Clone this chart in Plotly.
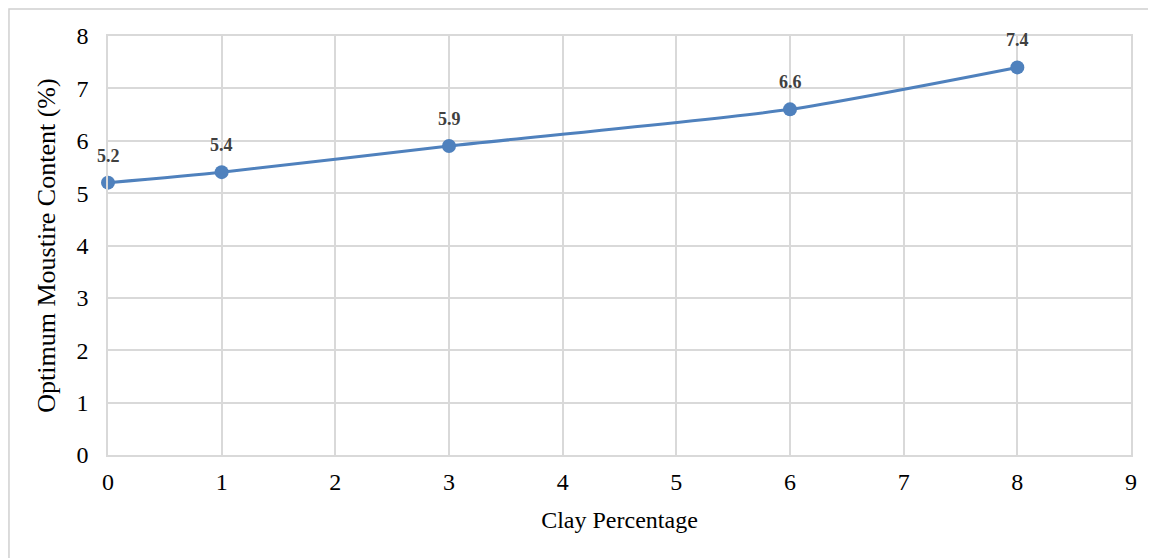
import plotly.graph_objects as go

clay = [0, 1, 3, 6, 8]
omc = [5.2, 5.4, 5.9, 6.6, 7.4]
labels = ["5.2", "5.4", "5.9", "6.6", "7.4"]

font = "Liberation Serif, Times New Roman, serif"
fig = go.Figure()
fig.add_trace(go.Scatter(
    x=clay, y=omc, mode="lines+markers",
    line=dict(color="#4F81BD", width=3, shape="spline", smoothing=0.6),
    marker=dict(color="#4F81BD", size=14),
    cliponaxis=False, showlegend=False,
))
for xv, yv, t in zip(clay, omc, labels):
    fig.add_annotation(x=xv, y=yv, text=t, showarrow=False, yshift=27,
                       font=dict(family=font, size=18, color="#404040", weight="bold"))
fig.update_layout(
    width=1156, height=558,
    margin=dict(l=100, r=33, t=28, b=111, autoexpand=False),
    plot_bgcolor="white", paper_bgcolor="white",
    font=dict(family=font, size=24, color="black"),
    xaxis=dict(range=[0, 9], dtick=1, showgrid=True, gridcolor="#D9D9D9", gridwidth=1.5,
               zeroline=False, showline=True, linecolor="#D9D9D9", linewidth=1.5, mirror=True,
               ticks="", ticklabelstandoff=4, automargin=False,
               title=dict(text="Clay Percentage", font=dict(size=24), standoff=18)),
    yaxis=dict(range=[0, 8], dtick=1, showgrid=True, gridcolor="#D9D9D9", gridwidth=1.5,
               zeroline=False, showline=True, linecolor="#D9D9D9", linewidth=1.5, mirror=True,
               ticks="", ticklabelstandoff=13, automargin=False,
               title=dict(text="Optimum Moustire Content (%)", font=dict(size=26), standoff=13)),
)
fig.add_shape(type="rect", xref="paper", yref="paper", x0=-0.0968, x1=1.06, y0=-0.3, y1=1.0644,
              line=dict(color="#D0D0D0", width=1.5))
fig.write_html("out.html")
